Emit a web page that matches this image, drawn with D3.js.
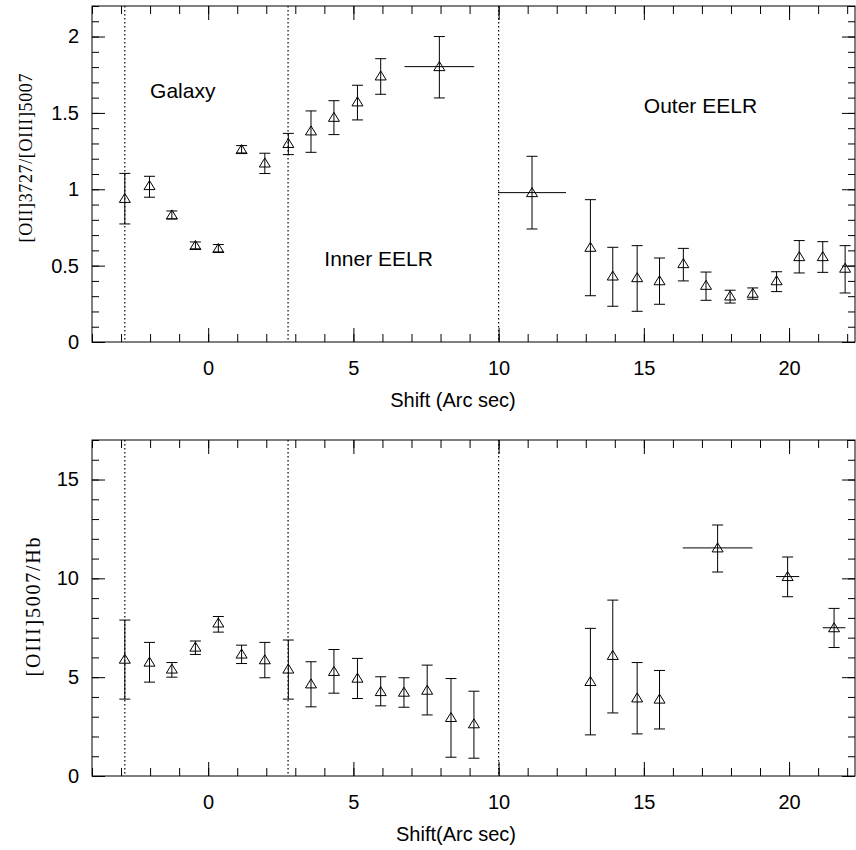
<!DOCTYPE html>
<html>
<head>
<meta charset="utf-8">
<script src="https://cdn.jsdelivr.net/npm/d3@7"></script>
<style>
  body { margin: 0; background: #fff; }
  svg { display: block; }
  text { font-family: "Liberation Sans", Arial, sans-serif; fill: #000; }
  .tick text { font-size: 20px; }
  .serif { font-family: "Liberation Serif", "DejaVu Serif", serif; }
</style>
</head>
<body>
<div id="chart"></div>
<script>
// Top panel: [OII]3727/[OIII]5007 vs shift
const topShift = [-2.87, -2.02, -1.25, -0.44, 0.35, 1.15, 1.95, 2.76, 3.54, 4.33, 5.14, 5.94, 7.96,
                  11.15, 13.16, 13.93, 14.77, 15.54, 16.36, 17.14, 17.97, 18.75, 19.57, 20.35, 21.16, 21.93];
const topRatio = [0.94, 1.024, 0.832, 0.632, 0.612, 1.26, 1.172, 1.30, 1.382, 1.471, 1.572, 1.742, 1.803,
                  0.978, 0.62, 0.432, 0.421, 0.401, 0.513, 0.371, 0.301, 0.319, 0.401, 0.559, 0.559, 0.483];
const topLow   = [0.773, 0.948, 0.806, 0.61, 0.59, 1.238, 1.103, 1.227, 1.242, 1.358, 1.454, 1.622, 1.598,
                  0.74, 0.303, 0.234, 0.201, 0.247, 0.40, 0.273, 0.255, 0.280, 0.33, 0.452, 0.456, 0.321];
const topHigh  = [1.104, 1.085, 0.858, 0.655, 0.638, 1.286, 1.236, 1.366, 1.513, 1.58, 1.681, 1.855, 2.0,
                  1.216, 0.932, 0.62, 0.631, 0.55, 0.613, 0.458, 0.339, 0.354, 0.46, 0.664, 0.657, 0.631];
const topXErr  = [0, 0, 0, 0, 0, 0, 0, 0, 0, 0, 0, 0, 1.2,
                  1.17, 0, 0, 0, 0, 0, 0, 0, 0, 0, 0, 0, 0];

// Bottom panel: [OIII]5007/Hb vs shift
const botShift = [-2.87, -2.02, -1.25, -0.44, 0.35, 1.15, 1.95, 2.76, 3.54, 4.33, 5.14, 5.94, 6.74, 7.54,
                  8.36, 9.15, 13.16, 13.93, 14.77, 15.54, 17.54, 19.95, 21.55];
const botRatio = [5.91, 5.76, 5.41, 6.52, 7.74, 6.17, 5.88, 5.41, 4.66, 5.29, 4.95, 4.27, 4.24, 4.34,
                  2.96, 2.64, 4.78, 6.10, 3.95, 3.89, 11.54, 10.09, 7.50];
const botLow   = [3.89, 4.75, 5.0, 6.15, 7.28, 5.69, 4.97, 3.89, 3.50, 4.19, 3.92, 3.55, 3.48, 3.09,
                  0.95, 0.90, 2.08, 3.19, 2.13, 2.38, 10.32, 9.07, 6.50];
const botHigh  = [7.89, 6.76, 5.74, 6.83, 8.07, 6.62, 6.76, 6.88, 5.78, 6.40, 5.95, 5.02, 4.97, 5.61,
                  4.93, 4.29, 7.47, 8.90, 5.74, 5.34, 12.70, 11.08, 8.48];
const botXErr  = [0, 0, 0, 0, 0, 0, 0, 0, 0, 0, 0, 0, 0, 0,
                  0, 0, 0, 0, 0, 0, 1.2, 0.4, 0.39];

// region boundaries (dotted lines) and labels
const boundaries = [-2.87, 2.75, 10];
const regionNames = ["Galaxy", "Inner EELR", "Outer EELR"];
const regionX = [-2, 4, 15];
const regionY = [1.6, 0.5, 1.5];

// ticks
const xTicks = [0, 5, 10, 15, 20];
const topYTicks = [0, 0.5, 1, 1.5, 2];
const botYTicks = [0, 5, 10, 15];

const W = 856, H = 850;
const left = 92, right = 855;

const svg = d3.select("#chart").append("svg")
  .attr("width", W)
  .attr("height", H);

function drawPanel(opts) {
  const g = svg.append("g");
  const x = d3.scaleLinear().domain([-4, 22.27]).range([left, right]);
  const y = d3.scaleLinear().domain(opts.yDomain).range([opts.bottom, opts.top]);

  // minor + major ticks on all four sides, pointing inward
  const xMinor = d3.range(-4, 23, 1);
  const yMinor = d3.range(0, opts.yDomain[1] + 1e-6, opts.yMinorStep);

  function addAxis(axis, transform, labels) {
    const a = g.append("g").attr("transform", transform).call(axis);
    a.select(".domain").remove();
    a.selectAll("line").attr("stroke", "#000");
    if (!labels) a.selectAll("text").remove();
    return a;
  }

  addAxis(d3.axisBottom(x).tickValues(xMinor).tickSize(-8).tickFormat(""), `translate(0,${opts.bottom})`, false);
  addAxis(d3.axisBottom(x).tickValues(xTicks).tickSize(-14).tickPadding(19).tickFormat(d3.format("~g")),
          `translate(0,${opts.bottom})`, true);
  addAxis(d3.axisTop(x).tickValues(xMinor).tickSize(-8).tickFormat(""), `translate(0,${opts.top})`, false);
  addAxis(d3.axisTop(x).tickValues(xTicks).tickSize(-14).tickFormat(""), `translate(0,${opts.top})`, false);

  addAxis(d3.axisLeft(y).tickValues(yMinor).tickSize(-7).tickFormat(""), `translate(${left},0)`, false);
  addAxis(d3.axisLeft(y).tickValues(opts.yTicks).tickSize(-13).tickPadding(13).tickFormat(d3.format("~g")),
          `translate(${left},0)`, true);
  addAxis(d3.axisRight(y).tickValues(yMinor).tickSize(-7).tickFormat(""), `translate(${right},0)`, false);
  addAxis(d3.axisRight(y).tickValues(opts.yTicks).tickSize(-13).tickFormat(""), `translate(${right},0)`, false);

  // frame
  g.append("rect")
    .attr("x", left).attr("y", opts.top)
    .attr("width", right - left).attr("height", opts.bottom - opts.top)
    .attr("fill", "none").attr("stroke", "#000").attr("stroke-width", 1);

  // dotted region boundaries
  g.selectAll(".bound").data(boundaries).enter().append("line")
    .attr("x1", d => x(d)).attr("x2", d => x(d))
    .attr("y1", opts.top).attr("y2", opts.bottom)
    .attr("stroke", "#000").attr("stroke-width", 1.2)
    .attr("stroke-dasharray", "1.5,2.5");

  const pts = opts.xs.map((v, i) => ({x: v, y: opts.ys[i], lo: opts.lo[i], hi: opts.hi[i], xe: opts.xe[i]}));
  const cap = 5.5;

  const p = g.selectAll(".pt").data(pts).enter().append("g").attr("class", "pt");
  p.append("line")
    .attr("x1", d => x(d.x)).attr("x2", d => x(d.x))
    .attr("y1", d => y(d.lo)).attr("y2", d => y(d.hi));
  p.append("line")
    .attr("x1", d => x(d.x) - cap).attr("x2", d => x(d.x) + cap)
    .attr("y1", d => y(d.lo)).attr("y2", d => y(d.lo));
  p.append("line")
    .attr("x1", d => x(d.x) - cap).attr("x2", d => x(d.x) + cap)
    .attr("y1", d => y(d.hi)).attr("y2", d => y(d.hi));
  p.filter(d => d.xe > 0).append("line")
    .attr("x1", d => x(d.x - d.xe)).attr("x2", d => x(d.x + d.xe))
    .attr("y1", d => y(d.y)).attr("y2", d => y(d.y));
  p.append("path")
    .attr("d", d => {
      const cx = x(d.x), cy = y(d.y);
      return `M${cx},${cy - 5}L${cx + 5.5},${cy + 4}L${cx - 5.5},${cy + 4}Z`;
    })
    .attr("fill", "none");
  p.selectAll("line, path").attr("stroke", "#000").attr("stroke-width", 1);

  // x title
  g.append("text")
    .attr("x", opts.xTitleX).attr("y", opts.bottom + 65)
    .attr("text-anchor", "middle")
    .style("font-size", "20px")
    .text(opts.xTitle);

  // y title
  g.append("text")
    .attr("class", "serif")
    .attr("transform", `translate(${opts.yTitleX},${opts.yTitleY}) rotate(-90)`)
    .attr("text-anchor", "middle")
    .attr("textLength", opts.yTitleLen)
    .attr("lengthAdjust", "spacing")
    .style("font-size", opts.yTitleSize + "px")
    .text(opts.yTitle);

  return {g, x, y};
}

const topPanel = drawPanel({
  top: 6, bottom: 342, yDomain: [0, 2.2], yMinorStep: 0.1, yTicks: topYTicks,
  xs: topShift, ys: topRatio, lo: topLow, hi: topHigh, xe: topXErr,
  xTitle: "Shift (Arc sec)", xTitleX: 453,
  yTitle: "[OII]3727/[OIII]5007", yTitleX: 32, yTitleY: 158, yTitleLen: 169, yTitleSize: 18
});

// region labels in the top panel
topPanel.g.selectAll(".region").data(regionNames).enter().append("text")
  .attr("x", (d, i) => topPanel.x(regionX[i]))
  .attr("y", (d, i) => topPanel.y(regionY[i]))
  .style("font-size", "21px")
  .text(d => d);

drawPanel({
  top: 440, bottom: 776, yDomain: [0, 17], yMinorStep: 1, yTicks: botYTicks,
  xs: botShift, ys: botRatio, lo: botLow, hi: botHigh, xe: botXErr,
  xTitle: "Shift(Arc sec)", xTitleX: 456,
  yTitle: "[OIII]5007/Hb", yTitleX: 40, yTitleY: 607, yTitleLen: 139, yTitleSize: 20
});
</script>
</body>
</html>
